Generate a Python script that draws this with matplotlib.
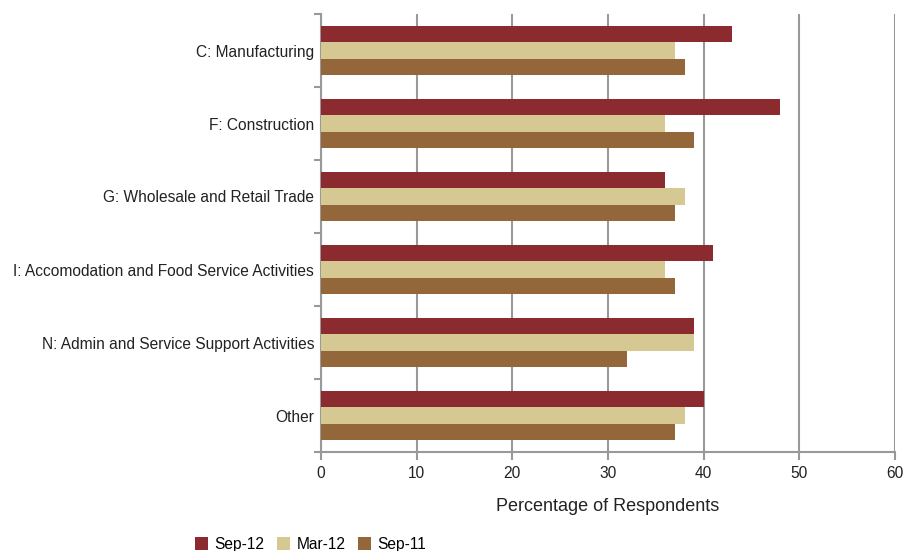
import matplotlib
matplotlib.use("Agg")
import matplotlib.pyplot as plt
import numpy as np

categories = [
    "C: Manufacturing",
    "F: Construction",
    "G: Wholesale and Retail Trade",
    "I: Accomodation and Food Service Activities",
    "N: Admin and Service Support Activities",
    "Other",
]
sep12 = [43, 48, 36, 41, 39, 40]
mar12 = [37, 36, 38, 36, 39, 38]
sep11 = [38, 39, 37, 37, 32, 37]
series_names = ["Sep-12", "Mar-12", "Sep-11"]
colors = ["#8B2A2F", "#D6C893", "#93673A"]
xticks = [0, 10, 20, 30, 40, 50, 60]

plt.rcParams["font.family"] = ["Liberation Sans", "DejaVu Sans"]

fig = plt.figure(figsize=(9.06, 5.51), dpi=100)
ax = fig.add_axes([321 / 906, 1 - 452 / 551, (895 - 321) / 906, (452 - 14) / 551])

y = np.arange(len(categories))
h = 0.222
bars = []
for i, (vals, name, c) in enumerate(zip([sep12, mar12, sep11], series_names, colors)):
    b = ax.barh(y + (i - 1) * h, vals, height=h, color=c, label=name, zorder=3)
    bars.append(b)

ax.set_ylim(len(categories) - 0.5, -0.5)
ax.set_xlim(0, 60)
ax.set_xticks(xticks)
ax.set_yticks(y)
ax.set_yticklabels(categories, fontsize=11.2, color="#222222")
ax.set_yticks(np.arange(-0.5, len(categories), 1.0), minor=True)

grid_c = "#999999"
ax.xaxis.grid(True, color=grid_c, linewidth=1.5, zorder=0)
for s in ["top", "right"]:
    ax.spines[s].set_visible(False)
ax.spines["left"].set_color(grid_c)
ax.spines["left"].set_linewidth(1.5)
ax.spines["bottom"].set_color(grid_c)
ax.spines["bottom"].set_linewidth(1.5)

ax.tick_params(axis="y", which="major", length=0, pad=5)
ax.tick_params(axis="y", which="minor", length=5, width=1.5, color=grid_c, direction="out")
ax.tick_params(axis="x", length=6, width=1.5, color=grid_c, labelsize=11.2, labelcolor="#222222", pad=4)

ax.set_xlabel("Percentage of Respondents", fontsize=13, color="#222222", labelpad=12)

fig.legend(handles=bars, labels=series_names, loc="lower left",
           bbox_to_anchor=(189 / 906, -7 / 551), ncol=3, frameon=False,
           fontsize=11.2, handlelength=0.85, handleheight=0.85, handletextpad=0.4,
           columnspacing=0.8, borderaxespad=0)

fig.savefig("out.png", dpi=100)
